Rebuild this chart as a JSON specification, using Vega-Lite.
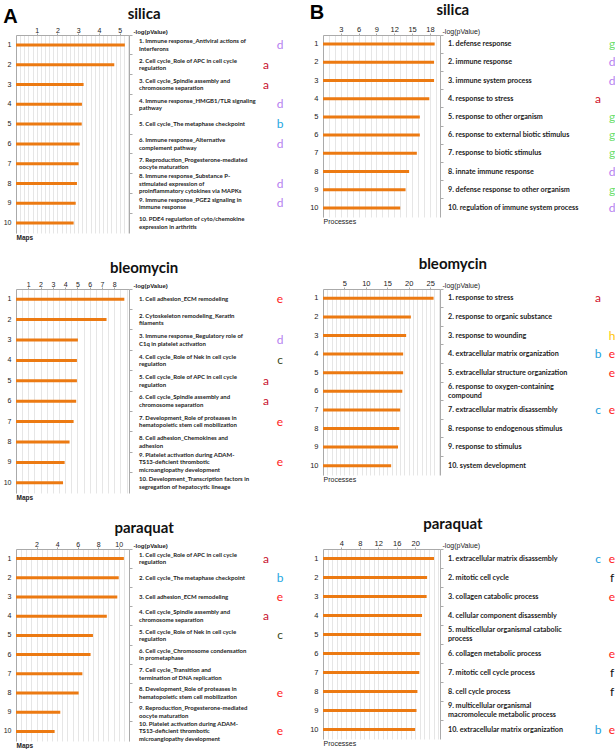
{
"$schema": "https://vega.github.io/schema/vega-lite/v6.json",
"padding": {"left": 3, "top": 3, "right": 0, "bottom": 0},
"background": "white",
"config": {
  "view": {"stroke": null},
  "axis": {"domainColor": "#aaaaaa", "tickColor": "#aaaaaa", "labelColor": "#222222", "titleColor": "#222222", "labelFont": "Liberation Sans", "titleFont": "Liberation Sans"},
  "style": {
    "termA": {"align": "left", "baseline": "middle", "font": "Lato", "fontWeight": "bold", "fontSize": 6, "lineHeight": 7.5, "lineBreak": "\n"},
    "termB": {"align": "left", "baseline": "middle", "font": "Lato", "fontWeight": "bold", "fontSize": 7.2, "lineHeight": 9, "lineBreak": "\n"},
    "letter": {"align": "center", "baseline": "middle", "font": "Lato", "fontSize": 12}
  }
},
"datasets": {
  "bars": [
    {"panel": "As", "rank": 1, "value": 5.25, "term": "1. Immune response_Antiviral actions of\n    Interferons"},
    {"panel": "As", "rank": 2, "value": 4.74, "term": "2. Cell cycle_Role of APC in cell cycle\n    regulation"},
    {"panel": "As", "rank": 3, "value": 3.26, "term": "3. Cell cycle_Spindle assembly and\n    chromosome separation"},
    {"panel": "As", "rank": 4, "value": 3.18, "term": "4. Immune response_HMGB1/TLR signaling\n    pathway"},
    {"panel": "As", "rank": 5, "value": 3.17, "term": "5. Cell cycle_The metaphase checkpoint"},
    {"panel": "As", "rank": 6, "value": 3.07, "term": "6. Immune response_Alternative\n    complement pathway"},
    {"panel": "As", "rank": 7, "value": 3.02, "term": "7. Reproduction_Progesterone-mediated\n    oocyte maturation"},
    {"panel": "As", "rank": 8, "value": 2.94, "term": "8. Immune response_Substance P-\n    stimulated expression of\n    proinflammatory cytokines via MAPKs"},
    {"panel": "As", "rank": 9, "value": 2.88, "term": "9. Immune response_PGE2 signaling in\n    immune response"},
    {"panel": "As", "rank": 10, "value": 2.78, "term": "10. PDE4 regulation of cyto/chemokine\n     expression in arthritis"},
    {"panel": "Bs", "rank": 1, "value": 18.8, "term": "1. defense response"},
    {"panel": "Bs", "rank": 2, "value": 18.7, "term": "2. immune response"},
    {"panel": "Bs", "rank": 3, "value": 18.7, "term": "3. immune system process"},
    {"panel": "Bs", "rank": 4, "value": 17.9, "term": "4. response to stress"},
    {"panel": "Bs", "rank": 5, "value": 16.3, "term": "5. response to other organism"},
    {"panel": "Bs", "rank": 6, "value": 16.3, "term": "6. response to external biotic stimulus"},
    {"panel": "Bs", "rank": 7, "value": 15.8, "term": "7. response to biotic stimulus"},
    {"panel": "Bs", "rank": 8, "value": 14.5, "term": "8. innate immune response"},
    {"panel": "Bs", "rank": 9, "value": 13.9, "term": "9. defense response to other organism"},
    {"panel": "Bs", "rank": 10, "value": 13.0, "term": "10. regulation of immune system process"},
    {"panel": "Ab", "rank": 1, "value": 8.82, "term": "1. Cell adhesion_ECM remodeling"},
    {"panel": "Ab", "rank": 2, "value": 7.37, "term": "2. Cytoskeleton remodeling_Keratin\n    filaments"},
    {"panel": "Ab", "rank": 3, "value": 5.04, "term": "3. Immune response_Regulatory role of\n    C1q in platelet activation"},
    {"panel": "Ab", "rank": 4, "value": 4.96, "term": "4. Cell cycle_Role of Nek in cell cycle\n    regulation"},
    {"panel": "Ab", "rank": 5, "value": 4.96, "term": "5. Cell cycle_Role of APC in cell cycle\n    regulation"},
    {"panel": "Ab", "rank": 6, "value": 4.9, "term": "6. Cell cycle_Spindle assembly and\n    chromosome separation"},
    {"panel": "Ab", "rank": 7, "value": 4.69, "term": "7. Development_Role of proteases in\n    hematopoietic stem cell mobilization"},
    {"panel": "Ab", "rank": 8, "value": 4.36, "term": "8. Cell adhesion_Chemokines and\n    adhesion"},
    {"panel": "Ab", "rank": 9, "value": 3.96, "term": "9. Platelet activation during ADAM-\n    TS13-deficient thrombotic\n    microangiopathy development"},
    {"panel": "Ab", "rank": 10, "value": 3.83, "term": "10. Development_Transcription factors in\n     segregation of hepatocytic lineage"},
    {"panel": "Bb", "rank": 1, "value": 25.8, "term": "1. response to stress"},
    {"panel": "Bb", "rank": 2, "value": 20.5, "term": "2. response to organic substance"},
    {"panel": "Bb", "rank": 3, "value": 19.4, "term": "3. response to wounding"},
    {"panel": "Bb", "rank": 4, "value": 18.7, "term": "4. extracellular matrix organization"},
    {"panel": "Bb", "rank": 5, "value": 18.7, "term": "5. extracellular structure organization"},
    {"panel": "Bb", "rank": 6, "value": 18.5, "term": "6. response to oxygen-containing\n    compound"},
    {"panel": "Bb", "rank": 7, "value": 18.0, "term": "7. extracellular matrix disassembly"},
    {"panel": "Bb", "rank": 8, "value": 17.8, "term": "8. response to endogenous stimulus"},
    {"panel": "Bb", "rank": 9, "value": 17.5, "term": "9. response to stimulus"},
    {"panel": "Bb", "rank": 10, "value": 15.9, "term": "10. system development"},
    {"panel": "Ap", "rank": 1, "value": 10.5, "term": "1. Cell cycle_Role of APC in cell cycle\n    regulation"},
    {"panel": "Ap", "rank": 2, "value": 10.0, "term": "2. Cell cycle_The metaphase checkpoint"},
    {"panel": "Ap", "rank": 3, "value": 9.86, "term": "3. Cell adhesion_ECM remodeling"},
    {"panel": "Ap", "rank": 4, "value": 8.84, "term": "4. Cell cycle_Spindle assembly and\n    chromosome separation"},
    {"panel": "Ap", "rank": 5, "value": 7.49, "term": "5. Cell cycle_Role of Nek in cell cycle\n    regulation"},
    {"panel": "Ap", "rank": 6, "value": 7.26, "term": "6. Cell cycle_Chromosome condensation\n    in prometaphase"},
    {"panel": "Ap", "rank": 7, "value": 6.46, "term": "7. Cell cycle_Transition and\n    termination of DNA replication"},
    {"panel": "Ap", "rank": 8, "value": 6.1, "term": "8. Development_Role of proteases in\n    hematopoietic stem cell mobilization"},
    {"panel": "Ap", "rank": 9, "value": 4.31, "term": "9. Reproduction_Progesterone-mediated\n    oocyte maturation"},
    {"panel": "Ap", "rank": 10, "value": 3.76, "term": "10. Platelet activation during ADAM-\n     TS13-deficient thrombotic\n     microangiopathy development"},
    {"panel": "Bp", "rank": 1, "value": 24.1, "term": "1. extracellular matrix disassembly"},
    {"panel": "Bp", "rank": 2, "value": 22.6, "term": "2. mitotic cell cycle"},
    {"panel": "Bp", "rank": 3, "value": 22.5, "term": "3. collagen catabolic process"},
    {"panel": "Bp", "rank": 4, "value": 21.5, "term": "4. cellular component disassembly"},
    {"panel": "Bp", "rank": 5, "value": 21.3, "term": "5. multicellular organismal catabolic\n    process"},
    {"panel": "Bp", "rank": 6, "value": 21.0, "term": "6. collagen metabolic process"},
    {"panel": "Bp", "rank": 7, "value": 20.9, "term": "7. mitotic cell cycle process"},
    {"panel": "Bp", "rank": 8, "value": 20.5, "term": "8. cell cycle process"},
    {"panel": "Bp", "rank": 9, "value": 20.3, "term": "9. multicellular organismal\n    macromolecule metabolic process"},
    {"panel": "Bp", "rank": 10, "value": 20.0, "term": "10. extracellular matrix organization"}
  ],
  "letters": [
    {"panel": "As", "rank": 1, "letter": "d"}, {"panel": "As", "rank": 2, "letter": "a"}, {"panel": "As", "rank": 3, "letter": "a"}, {"panel": "As", "rank": 4, "letter": "d"}, {"panel": "As", "rank": 5, "letter": "b"}, {"panel": "As", "rank": 6, "letter": "d"}, {"panel": "As", "rank": 8, "letter": "d"}, {"panel": "As", "rank": 9, "letter": "d"},
    {"panel": "Bs", "rank": 1, "letter": "g"}, {"panel": "Bs", "rank": 2, "letter": "d"}, {"panel": "Bs", "rank": 3, "letter": "d"}, {"panel": "Bs", "rank": 4, "letter": "a"}, {"panel": "Bs", "rank": 5, "letter": "g"}, {"panel": "Bs", "rank": 6, "letter": "g"}, {"panel": "Bs", "rank": 7, "letter": "g"}, {"panel": "Bs", "rank": 8, "letter": "d"}, {"panel": "Bs", "rank": 9, "letter": "g"}, {"panel": "Bs", "rank": 10, "letter": "d"},
    {"panel": "Ab", "rank": 1, "letter": "e"}, {"panel": "Ab", "rank": 3, "letter": "d"}, {"panel": "Ab", "rank": 4, "letter": "c"}, {"panel": "Ab", "rank": 5, "letter": "a"}, {"panel": "Ab", "rank": 6, "letter": "a"}, {"panel": "Ab", "rank": 7, "letter": "e"}, {"panel": "Ab", "rank": 9, "letter": "e"},
    {"panel": "Bb", "rank": 1, "letter": "a"}, {"panel": "Bb", "rank": 3, "letter": "h"}, {"panel": "Bb", "rank": 4, "letter": "b"}, {"panel": "Bb", "rank": 4, "letter": "e"}, {"panel": "Bb", "rank": 5, "letter": "e"}, {"panel": "Bb", "rank": 7, "letter": "c"}, {"panel": "Bb", "rank": 7, "letter": "e"},
    {"panel": "Ap", "rank": 1, "letter": "a"}, {"panel": "Ap", "rank": 2, "letter": "b"}, {"panel": "Ap", "rank": 3, "letter": "e"}, {"panel": "Ap", "rank": 4, "letter": "a"}, {"panel": "Ap", "rank": 5, "letter": "c"}, {"panel": "Ap", "rank": 8, "letter": "e"}, {"panel": "Ap", "rank": 10, "letter": "e"},
    {"panel": "Bp", "rank": 1, "letter": "c"}, {"panel": "Bp", "rank": 1, "letter": "e"}, {"panel": "Bp", "rank": 2, "letter": "f"}, {"panel": "Bp", "rank": 3, "letter": "e"}, {"panel": "Bp", "rank": 6, "letter": "e"}, {"panel": "Bp", "rank": 7, "letter": "f"}, {"panel": "Bp", "rank": 8, "letter": "f"}, {"panel": "Bp", "rank": 10, "letter": "b"}, {"panel": "Bp", "rank": 10, "letter": "e"}
  ]
},
"spacing": 16,
"vconcat": [
  {"hconcat": [
    {"title": {"text": "A", "anchor": "start", "fontSize": 20, "font": "Liberation Sans", "fontWeight": "bold", "offset": -20, "color": "#000000"},
     "vconcat": [
      {"title": {"text": "silica", "anchor": "middle", "dx": -2, "fontSize": 15, "font": "Lato", "fontWeight": "bold", "offset": 4, "color": "#111111"},
       "bounds": "flush", "spacing": 10,
       "hconcat": [
        {"width": 113, "height": 198, "data": {"name": "bars"}, "transform": [{"filter": "datum.panel == 'As'"}],
         "layer": [
          {"mark": {"type": "bar", "opacity": 0}, "encoding": {
            "x": {"field": "value", "type": "quantitative", "scale": {"domain": [0, 5.45], "nice": false}, "axis": {"orient": "bottom", "grid": true, "gridColor": "#e6e6e6", "labels": false, "ticks": false, "domain": false, "title": null, "tickCount": 27}},
            "y": {"field": "rank", "type": "ordinal", "scale": {"type": "band", "padding": 0}, "axis": {"orient": "right", "labels": false, "title": null, "tickSize": 3, "bandPosition": 0}}}},
          {"mark": {"type": "bar", "color": "#ec7a12", "size": 3}, "encoding": {
            "x": {"field": "value", "type": "quantitative", "scale": {"domain": [0, 5.45], "nice": false}, "axis": {"orient": "top", "values": [1, 2, 3, 4, 5], "grid": false, "title": "-log(pValue)", "titleX": 117, "titleY": -4, "titleAlign": "left", "titleBaseline": "middle", "titleFontSize": 6, "titleFontWeight": "bold", "labelFontSize": 7, "labelPadding": 0, "tickSize": 2}},
            "y": {"field": "rank", "type": "ordinal", "scale": {"type": "band", "padding": 0}, "axis": {"orient": "left", "ticks": false, "labelFontSize": 7, "labelPadding": 5, "title": "Maps", "titleAngle": 0, "titleX": 0, "titleY": 202, "titleAlign": "left", "titleBaseline": "middle", "titleFontSize": 6.5, "titleFontWeight": "bold"}}}}
         ],
         "resolve": {"axis": {"x": "independent", "y": "independent"}}},
        {"width": 150, "height": 198,
         "encoding": {"y": {"field": "rank", "type": "ordinal", "scale": {"type": "point", "padding": 0.5, "domain": [1,2,3,4,5,6,7,8,9,10]}, "axis": null}},
         "layer": [
          {"data": {"name": "bars"}, "transform": [{"filter": "datum.panel == 'As' && indexof(datum.term, '\\n') < 0"}], "mark": {"type": "text", "style": "termA", "color": "#222222"},
           "encoding": {"x": {"datum": 0, "type": "quantitative", "scale": {"domain": [0, 150], "nice": false}, "axis": null}, "text": {"field": "term"}}},
          {"data": {"name": "bars"}, "transform": [{"filter": "datum.panel == 'As' && indexof(datum.term, '\\n') >= 0 && indexof(datum.term, '\\n') == lastindexof(datum.term, '\\n')"}], "mark": {"type": "text", "style": "termA", "color": "#222222", "dy": -3.75},
           "encoding": {"x": {"datum": 0, "type": "quantitative", "scale": {"domain": [0, 150], "nice": false}, "axis": null}, "text": {"field": "term"}}},
          {"data": {"name": "bars"}, "transform": [{"filter": "datum.panel == 'As' && indexof(datum.term, '\\n') != lastindexof(datum.term, '\\n')"}], "mark": {"type": "text", "style": "termA", "color": "#222222", "dy": -7.5},
           "encoding": {"x": {"datum": 0, "type": "quantitative", "scale": {"domain": [0, 150], "nice": false}, "axis": null}, "text": {"field": "term"}}},
          {"data": {"name": "letters"}, "transform": [{"filter": "datum.panel == 'As' && datum.letter == 'a'"}], "mark": {"type": "text", "style": "letter"},
           "encoding": {"x": {"datum": 127, "type": "quantitative"}, "text": {"field": "letter"},
            "color": {"condition": [{"test": "datum.letter == 'a'", "value": "#c8102e"}, {"test": "datum.letter == 'b'", "value": "#1ea7e1"}, {"test": "datum.letter == 'c'", "value": "#3b4a1c"}, {"test": "datum.letter == 'e'", "value": "#ff1a1a"}], "value": "#b57ff0"}}},
          {"data": {"name": "letters"}, "transform": [{"filter": "datum.panel == 'As' && datum.letter != 'a'"}], "mark": {"type": "text", "style": "letter"},
           "encoding": {"x": {"datum": 141, "type": "quantitative"}, "text": {"field": "letter"},
            "color": {"condition": [{"test": "datum.letter == 'a'", "value": "#c8102e"}, {"test": "datum.letter == 'b'", "value": "#1ea7e1"}, {"test": "datum.letter == 'c'", "value": "#3b4a1c"}, {"test": "datum.letter == 'e'", "value": "#ff1a1a"}], "value": "#b57ff0"}}}
         ]}
       ]}
     ]},
    {"title": {"text": "B", "anchor": "start", "fontSize": 20, "font": "Liberation Sans", "fontWeight": "bold", "offset": -20, "color": "#000000"},
     "vconcat": [
      {"title": {"text": "silica", "anchor": "middle", "fontSize": 15, "font": "Lato", "fontWeight": "bold", "offset": 7, "dx": -11, "color": "#111111"},
       "bounds": "flush", "spacing": 8,
       "hconcat": [
        {"width": 117, "height": 182, "data": {"name": "bars"}, "transform": [{"filter": "datum.panel == 'Bs'"}],
         "layer": [
          {"mark": {"type": "bar", "opacity": 0}, "encoding": {
            "x": {"field": "value", "type": "quantitative", "scale": {"domain": [0, 19.7], "nice": false}, "axis": {"orient": "bottom", "grid": true, "gridColor": "#e6e6e6", "labels": false, "ticks": false, "domain": false, "title": null, "tickCount": 20}},
            "y": {"field": "rank", "type": "ordinal", "scale": {"type": "band", "padding": 0}, "axis": {"orient": "right", "labels": false, "title": null, "tickSize": 3, "bandPosition": 0}}}},
          {"mark": {"type": "bar", "color": "#ec7a12", "size": 3}, "encoding": {
            "x": {"field": "value", "type": "quantitative", "scale": {"domain": [0, 19.7], "nice": false}, "axis": {"orient": "top", "values": [3, 6, 9, 12, 15, 18], "grid": false, "title": "-log(pValue)", "titleX": 119, "titleY": -4, "titleAlign": "left", "titleBaseline": "middle", "titleFontSize": 7, "titleFontWeight": "normal", "labelFontSize": 7.5, "labelPadding": 0, "tickSize": 2}},
            "y": {"field": "rank", "type": "ordinal", "scale": {"type": "band", "padding": 0}, "axis": {"orient": "left", "ticks": false, "labelFontSize": 7.5, "labelPadding": 5, "title": "Processes", "titleAngle": 0, "titleX": 0, "titleY": 186, "titleAlign": "left", "titleBaseline": "middle", "titleFontSize": 7, "titleFontWeight": "normal"}}}}
         ],
         "resolve": {"axis": {"x": "independent", "y": "independent"}}},
        {"width": 170, "height": 182,
         "encoding": {"y": {"field": "rank", "type": "ordinal", "scale": {"type": "point", "padding": 0.5, "domain": [1,2,3,4,5,6,7,8,9,10]}, "axis": null}},
         "layer": [
          {"data": {"name": "bars"}, "transform": [{"filter": "datum.panel == 'Bs'"}], "mark": {"type": "text", "style": "termB", "color": "#222222"},
           "encoding": {"x": {"datum": 0, "type": "quantitative", "scale": {"domain": [0, 170], "nice": false}, "axis": null}, "text": {"field": "term"}}},
          {"data": {"name": "letters"}, "transform": [{"filter": "datum.panel == 'Bs' && indexof(['a','b','c'], datum.letter) >= 0"}], "mark": {"type": "text", "style": "letter"},
           "encoding": {"x": {"datum": 150, "type": "quantitative"}, "text": {"field": "letter"},
            "color": {"condition": [{"test": "datum.letter == 'a'", "value": "#d0112b"}, {"test": "datum.letter == 'b' || datum.letter == 'c'", "value": "#1e9fdc"}, {"test": "datum.letter == 'd'", "value": "#b57ff0"}, {"test": "datum.letter == 'e'", "value": "#ff1a1a"}, {"test": "datum.letter == 'g'", "value": "#6ee06e"}, {"test": "datum.letter == 'h'", "value": "#ffc400"}], "value": "#111111"}}},
          {"data": {"name": "letters"}, "transform": [{"filter": "datum.panel == 'Bs' && indexof(['a','b','c'], datum.letter) < 0"}], "mark": {"type": "text", "style": "letter"},
           "encoding": {"x": {"datum": 164, "type": "quantitative"}, "text": {"field": "letter"},
            "color": {"condition": [{"test": "datum.letter == 'a'", "value": "#d0112b"}, {"test": "datum.letter == 'b' || datum.letter == 'c'", "value": "#1e9fdc"}, {"test": "datum.letter == 'd'", "value": "#b57ff0"}, {"test": "datum.letter == 'e'", "value": "#ff1a1a"}, {"test": "datum.letter == 'g'", "value": "#6ee06e"}, {"test": "datum.letter == 'h'", "value": "#ffc400"}], "value": "#111111"}}}
         ]}
       ]}
     ]}
  ], "spacing": 20},
  {"hconcat": [
    {"title": {"text": "bleomycin", "anchor": "middle", "dx": -2, "fontSize": 15, "font": "Lato", "fontWeight": "bold", "offset": 4, "color": "#111111"},
     "bounds": "flush", "spacing": 10,
     "hconcat": [
      {"width": 113, "height": 204, "data": {"name": "bars"}, "transform": [{"filter": "datum.panel == 'Ab'"}],
       "layer": [
        {"mark": {"type": "bar", "opacity": 0}, "encoding": {
          "x": {"field": "value", "type": "quantitative", "scale": {"domain": [0, 9.2], "nice": false}, "axis": {"orient": "bottom", "grid": true, "gridColor": "#e6e6e6", "labels": false, "ticks": false, "domain": false, "title": null, "tickCount": 18}},
          "y": {"field": "rank", "type": "ordinal", "scale": {"type": "band", "padding": 0}, "axis": {"orient": "right", "labels": false, "title": null, "tickSize": 3, "bandPosition": 0}}}},
        {"mark": {"type": "bar", "color": "#ec7a12", "size": 3}, "encoding": {
          "x": {"field": "value", "type": "quantitative", "scale": {"domain": [0, 9.2], "nice": false}, "axis": {"orient": "top", "values": [1, 2, 3, 4, 5, 6, 7, 8], "grid": false, "title": "-log(pValue)", "titleX": 117, "titleY": -4, "titleAlign": "left", "titleBaseline": "middle", "titleFontSize": 6, "titleFontWeight": "bold", "labelFontSize": 7, "labelPadding": 0, "tickSize": 2}},
          "y": {"field": "rank", "type": "ordinal", "scale": {"type": "band", "padding": 0}, "axis": {"orient": "left", "ticks": false, "labelFontSize": 7, "labelPadding": 5, "title": "Maps", "titleAngle": 0, "titleX": 0, "titleY": 208, "titleAlign": "left", "titleBaseline": "middle", "titleFontSize": 6.5, "titleFontWeight": "bold"}}}}
       ],
       "resolve": {"axis": {"x": "independent", "y": "independent"}}},
      {"width": 150, "height": 204,
       "encoding": {"y": {"field": "rank", "type": "ordinal", "scale": {"type": "point", "padding": 0.5, "domain": [1,2,3,4,5,6,7,8,9,10]}, "axis": null}},
       "layer": [
        {"data": {"name": "bars"}, "transform": [{"filter": "datum.panel == 'Ab' && indexof(datum.term, '\\n') < 0"}], "mark": {"type": "text", "style": "termA", "color": "#222222"},
         "encoding": {"x": {"datum": 0, "type": "quantitative", "scale": {"domain": [0, 150], "nice": false}, "axis": null}, "text": {"field": "term"}}},
        {"data": {"name": "bars"}, "transform": [{"filter": "datum.panel == 'Ab' && indexof(datum.term, '\\n') >= 0 && indexof(datum.term, '\\n') == lastindexof(datum.term, '\\n')"}], "mark": {"type": "text", "style": "termA", "color": "#222222", "dy": -3.75},
         "encoding": {"x": {"datum": 0, "type": "quantitative", "scale": {"domain": [0, 150], "nice": false}, "axis": null}, "text": {"field": "term"}}},
        {"data": {"name": "bars"}, "transform": [{"filter": "datum.panel == 'Ab' && indexof(datum.term, '\\n') != lastindexof(datum.term, '\\n')"}], "mark": {"type": "text", "style": "termA", "color": "#222222", "dy": -7.5},
         "encoding": {"x": {"datum": 0, "type": "quantitative", "scale": {"domain": [0, 150], "nice": false}, "axis": null}, "text": {"field": "term"}}},
        {"data": {"name": "letters"}, "transform": [{"filter": "datum.panel == 'Ab' && datum.letter == 'a'"}], "mark": {"type": "text", "style": "letter"},
         "encoding": {"x": {"datum": 127, "type": "quantitative"}, "text": {"field": "letter"},
          "color": {"condition": [{"test": "datum.letter == 'a'", "value": "#c8102e"}, {"test": "datum.letter == 'b'", "value": "#1ea7e1"}, {"test": "datum.letter == 'c'", "value": "#3b4a1c"}, {"test": "datum.letter == 'e'", "value": "#ff1a1a"}], "value": "#b57ff0"}}},
        {"data": {"name": "letters"}, "transform": [{"filter": "datum.panel == 'Ab' && datum.letter != 'a'"}], "mark": {"type": "text", "style": "letter"},
         "encoding": {"x": {"datum": 141, "type": "quantitative"}, "text": {"field": "letter"},
          "color": {"condition": [{"test": "datum.letter == 'a'", "value": "#c8102e"}, {"test": "datum.letter == 'b'", "value": "#1ea7e1"}, {"test": "datum.letter == 'c'", "value": "#3b4a1c"}, {"test": "datum.letter == 'e'", "value": "#ff1a1a"}], "value": "#b57ff0"}}}
       ]}
     ]},
    {"title": {"text": "bleomycin", "anchor": "middle", "fontSize": 15, "font": "Lato", "fontWeight": "bold", "offset": 7, "dx": -11, "color": "#111111"},
     "bounds": "flush", "spacing": 8,
     "hconcat": [
      {"width": 117, "height": 186, "data": {"name": "bars"}, "transform": [{"filter": "datum.panel == 'Bb'"}],
       "layer": [
        {"mark": {"type": "bar", "opacity": 0}, "encoding": {
          "x": {"field": "value", "type": "quantitative", "scale": {"domain": [0, 27.3], "nice": false}, "axis": {"orient": "bottom", "grid": true, "gridColor": "#e6e6e6", "labels": false, "ticks": false, "domain": false, "title": null, "tickCount": 27}},
          "y": {"field": "rank", "type": "ordinal", "scale": {"type": "band", "padding": 0}, "axis": {"orient": "right", "labels": false, "title": null, "tickSize": 3, "bandPosition": 0}}}},
        {"mark": {"type": "bar", "color": "#ec7a12", "size": 3}, "encoding": {
          "x": {"field": "value", "type": "quantitative", "scale": {"domain": [0, 27.3], "nice": false}, "axis": {"orient": "top", "values": [5, 10, 15, 20, 25], "grid": false, "title": "-log(pValue)", "titleX": 119, "titleY": -4, "titleAlign": "left", "titleBaseline": "middle", "titleFontSize": 7, "titleFontWeight": "normal", "labelFontSize": 7.5, "labelPadding": 0, "tickSize": 2}},
          "y": {"field": "rank", "type": "ordinal", "scale": {"type": "band", "padding": 0}, "axis": {"orient": "left", "ticks": false, "labelFontSize": 7.5, "labelPadding": 5, "title": "Processes", "titleAngle": 0, "titleX": 0, "titleY": 190, "titleAlign": "left", "titleBaseline": "middle", "titleFontSize": 7, "titleFontWeight": "normal"}}}}
       ],
       "resolve": {"axis": {"x": "independent", "y": "independent"}}},
      {"width": 170, "height": 186,
       "encoding": {"y": {"field": "rank", "type": "ordinal", "scale": {"type": "point", "padding": 0.5, "domain": [1,2,3,4,5,6,7,8,9,10]}, "axis": null}},
       "layer": [
        {"data": {"name": "bars"}, "transform": [{"filter": "datum.panel == 'Bb' && indexof(datum.term, '\\n') < 0"}], "mark": {"type": "text", "style": "termB", "color": "#222222"},
         "encoding": {"x": {"datum": 0, "type": "quantitative", "scale": {"domain": [0, 170], "nice": false}, "axis": null}, "text": {"field": "term"}}},
        {"data": {"name": "bars"}, "transform": [{"filter": "datum.panel == 'Bb' && indexof(datum.term, '\\n') >= 0"}], "mark": {"type": "text", "style": "termB", "color": "#222222", "dy": -4.5},
         "encoding": {"x": {"datum": 0, "type": "quantitative", "scale": {"domain": [0, 170], "nice": false}, "axis": null}, "text": {"field": "term"}}},
        {"data": {"name": "letters"}, "transform": [{"filter": "datum.panel == 'Bb' && indexof(['a','b','c'], datum.letter) >= 0"}], "mark": {"type": "text", "style": "letter"},
         "encoding": {"x": {"datum": 150, "type": "quantitative"}, "text": {"field": "letter"},
          "color": {"condition": [{"test": "datum.letter == 'a'", "value": "#d0112b"}, {"test": "datum.letter == 'b' || datum.letter == 'c'", "value": "#1e9fdc"}, {"test": "datum.letter == 'd'", "value": "#b57ff0"}, {"test": "datum.letter == 'e'", "value": "#ff1a1a"}, {"test": "datum.letter == 'g'", "value": "#6ee06e"}, {"test": "datum.letter == 'h'", "value": "#ffc400"}], "value": "#111111"}}},
        {"data": {"name": "letters"}, "transform": [{"filter": "datum.panel == 'Bb' && indexof(['a','b','c'], datum.letter) < 0"}], "mark": {"type": "text", "style": "letter"},
         "encoding": {"x": {"datum": 164, "type": "quantitative"}, "text": {"field": "letter"},
          "color": {"condition": [{"test": "datum.letter == 'a'", "value": "#d0112b"}, {"test": "datum.letter == 'b' || datum.letter == 'c'", "value": "#1e9fdc"}, {"test": "datum.letter == 'd'", "value": "#b57ff0"}, {"test": "datum.letter == 'e'", "value": "#ff1a1a"}, {"test": "datum.letter == 'g'", "value": "#6ee06e"}, {"test": "datum.letter == 'h'", "value": "#ffc400"}], "value": "#111111"}}}
       ]}
     ]}
  ], "spacing": 20},
  {"hconcat": [
    {"title": {"text": "paraquat", "anchor": "middle", "dx": -2, "fontSize": 15, "font": "Lato", "fontWeight": "bold", "offset": 4, "color": "#111111"},
     "bounds": "flush", "spacing": 10,
     "hconcat": [
      {"width": 113, "height": 192, "data": {"name": "bars"}, "transform": [{"filter": "datum.panel == 'Ap'"}],
       "layer": [
        {"mark": {"type": "bar", "opacity": 0}, "encoding": {
          "x": {"field": "value", "type": "quantitative", "scale": {"domain": [0, 11], "nice": false}, "axis": {"orient": "bottom", "grid": true, "gridColor": "#e6e6e6", "labels": false, "ticks": false, "domain": false, "title": null, "tickCount": 22}},
          "y": {"field": "rank", "type": "ordinal", "scale": {"type": "band", "padding": 0}, "axis": {"orient": "right", "labels": false, "title": null, "tickSize": 3, "bandPosition": 0}}}},
        {"mark": {"type": "bar", "color": "#ec7a12", "size": 3}, "encoding": {
          "x": {"field": "value", "type": "quantitative", "scale": {"domain": [0, 11], "nice": false}, "axis": {"orient": "top", "values": [2, 4, 6, 8, 10], "grid": false, "title": "-log(pValue)", "titleX": 117, "titleY": -4, "titleAlign": "left", "titleBaseline": "middle", "titleFontSize": 6, "titleFontWeight": "bold", "labelFontSize": 7, "labelPadding": 0, "tickSize": 2}},
          "y": {"field": "rank", "type": "ordinal", "scale": {"type": "band", "padding": 0}, "axis": {"orient": "left", "ticks": false, "labelFontSize": 7, "labelPadding": 5, "title": "Maps", "titleAngle": 0, "titleX": 0, "titleY": 196, "titleAlign": "left", "titleBaseline": "middle", "titleFontSize": 6.5, "titleFontWeight": "bold"}}}}
       ],
       "resolve": {"axis": {"x": "independent", "y": "independent"}}},
      {"width": 150, "height": 192,
       "encoding": {"y": {"field": "rank", "type": "ordinal", "scale": {"type": "point", "padding": 0.5, "domain": [1,2,3,4,5,6,7,8,9,10]}, "axis": null}},
       "layer": [
        {"data": {"name": "bars"}, "transform": [{"filter": "datum.panel == 'Ap' && indexof(datum.term, '\\n') < 0"}], "mark": {"type": "text", "style": "termA", "color": "#222222"},
         "encoding": {"x": {"datum": 0, "type": "quantitative", "scale": {"domain": [0, 150], "nice": false}, "axis": null}, "text": {"field": "term"}}},
        {"data": {"name": "bars"}, "transform": [{"filter": "datum.panel == 'Ap' && indexof(datum.term, '\\n') >= 0 && indexof(datum.term, '\\n') == lastindexof(datum.term, '\\n')"}], "mark": {"type": "text", "style": "termA", "color": "#222222", "dy": -3.75},
         "encoding": {"x": {"datum": 0, "type": "quantitative", "scale": {"domain": [0, 150], "nice": false}, "axis": null}, "text": {"field": "term"}}},
        {"data": {"name": "bars"}, "transform": [{"filter": "datum.panel == 'Ap' && indexof(datum.term, '\\n') != lastindexof(datum.term, '\\n')"}], "mark": {"type": "text", "style": "termA", "color": "#222222", "dy": -7.5},
         "encoding": {"x": {"datum": 0, "type": "quantitative", "scale": {"domain": [0, 150], "nice": false}, "axis": null}, "text": {"field": "term"}}},
        {"data": {"name": "letters"}, "transform": [{"filter": "datum.panel == 'Ap' && datum.letter == 'a'"}], "mark": {"type": "text", "style": "letter"},
         "encoding": {"x": {"datum": 127, "type": "quantitative"}, "text": {"field": "letter"},
          "color": {"condition": [{"test": "datum.letter == 'a'", "value": "#c8102e"}, {"test": "datum.letter == 'b'", "value": "#1ea7e1"}, {"test": "datum.letter == 'c'", "value": "#3b4a1c"}, {"test": "datum.letter == 'e'", "value": "#ff1a1a"}], "value": "#b57ff0"}}},
        {"data": {"name": "letters"}, "transform": [{"filter": "datum.panel == 'Ap' && datum.letter != 'a'"}], "mark": {"type": "text", "style": "letter"},
         "encoding": {"x": {"datum": 141, "type": "quantitative"}, "text": {"field": "letter"},
          "color": {"condition": [{"test": "datum.letter == 'a'", "value": "#c8102e"}, {"test": "datum.letter == 'b'", "value": "#1ea7e1"}, {"test": "datum.letter == 'c'", "value": "#3b4a1c"}, {"test": "datum.letter == 'e'", "value": "#ff1a1a"}], "value": "#b57ff0"}}}
       ]}
     ]},
    {"title": {"text": "paraquat", "anchor": "middle", "fontSize": 15, "font": "Lato", "fontWeight": "bold", "offset": 7, "dx": -11, "color": "#111111"},
     "bounds": "flush", "spacing": 8,
     "hconcat": [
      {"width": 117, "height": 190, "data": {"name": "bars"}, "transform": [{"filter": "datum.panel == 'Bp'"}],
       "layer": [
        {"mark": {"type": "bar", "opacity": 0}, "encoding": {
          "x": {"field": "value", "type": "quantitative", "scale": {"domain": [0, 25.4], "nice": false}, "axis": {"orient": "bottom", "grid": true, "gridColor": "#e6e6e6", "labels": false, "ticks": false, "domain": false, "title": null, "tickCount": 25}},
          "y": {"field": "rank", "type": "ordinal", "scale": {"type": "band", "padding": 0}, "axis": {"orient": "right", "labels": false, "title": null, "tickSize": 3, "bandPosition": 0}}}},
        {"mark": {"type": "bar", "color": "#ec7a12", "size": 3}, "encoding": {
          "x": {"field": "value", "type": "quantitative", "scale": {"domain": [0, 25.4], "nice": false}, "axis": {"orient": "top", "values": [4, 8, 12, 16, 20], "grid": false, "title": "-log(pValue)", "titleX": 119, "titleY": -4, "titleAlign": "left", "titleBaseline": "middle", "titleFontSize": 7, "titleFontWeight": "normal", "labelFontSize": 7.5, "labelPadding": 0, "tickSize": 2}},
          "y": {"field": "rank", "type": "ordinal", "scale": {"type": "band", "padding": 0}, "axis": {"orient": "left", "ticks": false, "labelFontSize": 7.5, "labelPadding": 5, "title": "Processes", "titleAngle": 0, "titleX": 0, "titleY": 194, "titleAlign": "left", "titleBaseline": "middle", "titleFontSize": 7, "titleFontWeight": "normal"}}}}
       ],
       "resolve": {"axis": {"x": "independent", "y": "independent"}}},
      {"width": 170, "height": 190,
       "encoding": {"y": {"field": "rank", "type": "ordinal", "scale": {"type": "point", "padding": 0.5, "domain": [1,2,3,4,5,6,7,8,9,10]}, "axis": null}},
       "layer": [
        {"data": {"name": "bars"}, "transform": [{"filter": "datum.panel == 'Bp' && indexof(datum.term, '\\n') < 0"}], "mark": {"type": "text", "style": "termB", "color": "#222222"},
         "encoding": {"x": {"datum": 0, "type": "quantitative", "scale": {"domain": [0, 170], "nice": false}, "axis": null}, "text": {"field": "term"}}},
        {"data": {"name": "bars"}, "transform": [{"filter": "datum.panel == 'Bp' && indexof(datum.term, '\\n') >= 0"}], "mark": {"type": "text", "style": "termB", "color": "#222222", "dy": -4.5},
         "encoding": {"x": {"datum": 0, "type": "quantitative", "scale": {"domain": [0, 170], "nice": false}, "axis": null}, "text": {"field": "term"}}},
        {"data": {"name": "letters"}, "transform": [{"filter": "datum.panel == 'Bp' && indexof(['a','b','c'], datum.letter) >= 0"}], "mark": {"type": "text", "style": "letter"},
         "encoding": {"x": {"datum": 150, "type": "quantitative"}, "text": {"field": "letter"},
          "color": {"condition": [{"test": "datum.letter == 'a'", "value": "#d0112b"}, {"test": "datum.letter == 'b' || datum.letter == 'c'", "value": "#1e9fdc"}, {"test": "datum.letter == 'd'", "value": "#b57ff0"}, {"test": "datum.letter == 'e'", "value": "#ff1a1a"}, {"test": "datum.letter == 'g'", "value": "#6ee06e"}, {"test": "datum.letter == 'h'", "value": "#ffc400"}], "value": "#111111"}}},
        {"data": {"name": "letters"}, "transform": [{"filter": "datum.panel == 'Bp' && indexof(['a','b','c'], datum.letter) < 0"}], "mark": {"type": "text", "style": "letter"},
         "encoding": {"x": {"datum": 164, "type": "quantitative"}, "text": {"field": "letter"},
          "color": {"condition": [{"test": "datum.letter == 'a'", "value": "#d0112b"}, {"test": "datum.letter == 'b' || datum.letter == 'c'", "value": "#1e9fdc"}, {"test": "datum.letter == 'd'", "value": "#b57ff0"}, {"test": "datum.letter == 'e'", "value": "#ff1a1a"}, {"test": "datum.letter == 'g'", "value": "#6ee06e"}, {"test": "datum.letter == 'h'", "value": "#ffc400"}], "value": "#111111"}}}
       ]}
     ]}
  ], "spacing": 20}
]
}
